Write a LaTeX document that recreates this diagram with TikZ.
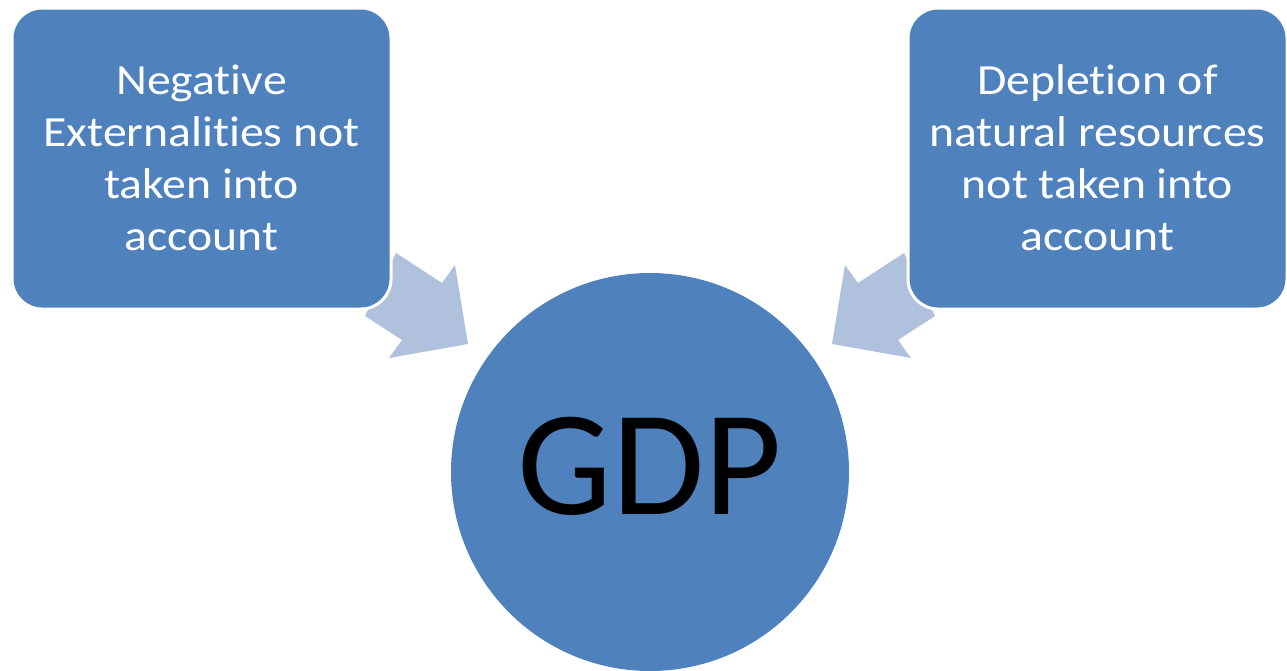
\documentclass[tikz,border=0pt]{standalone}
\usepackage{fontspec}
\setmainfont{Carlito}[Ligatures=CommonOff]
\definecolor{boxblue}{HTML}{4F81BD}
\definecolor{arrowblue}{HTML}{B0C1DE}
% wide centred multi-line label for the cause boxes, set a little low
\newcommand{\widelabel}[1]{\raisebox{-4pt}[\height][\depth]{\scalebox{1.11}[1]{\begin{tabular}{@{}c@{}}#1\end{tabular}}}}
\begin{document}
\begin{tikzpicture}[x=1pt,y=-1pt,
  causebox/.style={draw=white, line width=3pt, fill=boxblue, rounded corners=30pt,
    minimum width=379pt, minimum height=301pt, inner sep=0pt,
    text=white, align=center,
    font=\fontsize{43}{52}\selectfont},
  hub/.style={circle, fill=boxblue, minimum size=398pt, inner sep=0pt,
    text=black, font=\fontsize{150}{150}\selectfont},
  blockarrow/.style={fill=arrowblue}]
\useasboundingbox (0,0) rectangle (1287,670);
% block arrows from the two causes towards the centre
\fill[blockarrow] (396,253) -- (442,283) -- (455,265) -- (468,344) -- (389,358) -- (402,340) -- (365,316) -- cycle;
\fill[blockarrow] (904,253) -- (858,283) -- (845,265) -- (832,344) -- (911,358) -- (898,340) -- (935,316) -- cycle;
% cause boxes
\node[causebox] (neg) at (201.5,158.5) {\widelabel{Negative\\Externalities not\\taken into\\account}};
\node[causebox] (dep) at (1097.5,158.5) {\widelabel{Depletion of\\natural resources\\not taken into\\account}};
% central circle
\node[hub] (gdp) at (650,472) {\raisebox{6pt}[\height][\depth]{GDP}};
\end{tikzpicture}
\end{document}
